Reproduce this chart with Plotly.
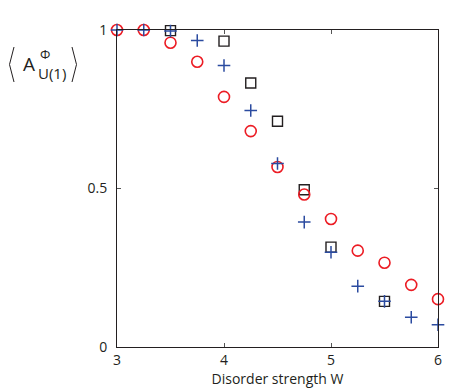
import plotly.graph_objects as go

# disorder strength W
w_circle = [3.0, 3.25, 3.5, 3.75, 4.0, 4.25, 4.5, 4.75, 5.0, 5.25, 5.5, 5.75, 6.0]
a_circle = [1.0, 1.0, 0.96, 0.90, 0.789, 0.681, 0.568, 0.481, 0.404, 0.304, 0.266, 0.196, 0.151]

w_plus = [3.0, 3.25, 3.5, 3.75, 4.0, 4.25, 4.5, 4.75, 5.0, 5.25, 5.5, 5.75, 6.0]
a_plus = [1.0, 1.0, 0.997, 0.967, 0.888, 0.746, 0.579, 0.394, 0.299, 0.192, 0.144, 0.094, 0.070]

w_square = [3.5, 4.0, 4.25, 4.5, 4.75, 5.0, 5.5]
a_square = [0.998, 0.965, 0.833, 0.712, 0.496, 0.315, 0.144]

x_ticks = [3, 4, 5, 6]
y_ticks = [0, 0.5, 1]
y_ticktext = ["0", "0.5", "1"]

RED = "#ec1c24"
BLUE = "#2b4ba0"
BLACK = "#231f20"
FONT = "Open Sans"

fig = go.Figure()
fig.add_trace(go.Scatter(
    x=w_square, y=a_square, mode="markers", cliponaxis=False,
    marker=dict(symbol="square-open", size=10, color=BLACK, line=dict(width=1.4, color=BLACK)),
))
fig.add_trace(go.Scatter(
    x=w_circle, y=a_circle, mode="markers", cliponaxis=False,
    marker=dict(symbol="circle-open", size=11, color=RED, line=dict(width=1.6, color=RED)),
))
fig.add_trace(go.Scatter(
    x=w_plus, y=a_plus, mode="markers", cliponaxis=False,
    marker=dict(symbol="cross-thin-open", size=9, color=BLUE, line=dict(width=1.5, color=BLUE)),
))

# page body has an 8px margin, so the figure starts at (8, 8)
OFF = 8
W, H = 463 - OFF, 390 - OFF
L, R, T, B = 117 - OFF, 25, 30 - OFF, 43
pw, ph = W - L - R, H - T - B


def px(x):
    return (x - OFF - L) / pw


def py(y):
    return (H - B - (y - OFF)) / ph


axis_common = dict(
    showgrid=False, zeroline=False, showline=True, linecolor=BLACK, linewidth=1,
    mirror="ticks", ticks="inside", ticklen=4, tickcolor="#555", automargin=False,
    tickfont=dict(family=FONT, size=14, color=BLACK),
)
fig.update_xaxes(range=[3, 6], tickvals=x_ticks, **axis_common,
                 title=dict(text="Disorder strength W", font=dict(family=FONT, size=14, color=BLACK), standoff=2))
fig.update_yaxes(range=[0, 1], tickvals=y_ticks, ticktext=y_ticktext, **axis_common,
                 ticklabelstandoff=6)

annotations = [
    dict(text="A", x=px(29), y=py(64), font=dict(size=19)),
    dict(text="\u03a6", x=px(45), y=py(54), font=dict(size=13)),
    dict(text="U(1)", x=px(52), y=py(73), font=dict(size=15)),
]
for a in annotations:
    a.update(xref="paper", yref="paper", showarrow=False, xanchor="center", yanchor="middle")
    a["font"].update(family=FONT, color=BLACK)
fig.update_layout(annotations=annotations)

# thin angle brackets around the y label
for x0, x1 in [(14, 9.5), (72, 76.5)]:
    fig.add_shape(
        type="path", xref="paper", yref="paper",
        path=f"M {px(x0)} {py(47)} L {px(x1)} {py(64.5)} L {px(x0)} {py(82)}",
        line=dict(color=BLACK, width=1),
    )

fig.update_layout(
    width=W, height=H, margin=dict(l=L, r=R, t=T, b=B),
    plot_bgcolor="white", paper_bgcolor="white", showlegend=False,
)

fig.write_html("out.html")
